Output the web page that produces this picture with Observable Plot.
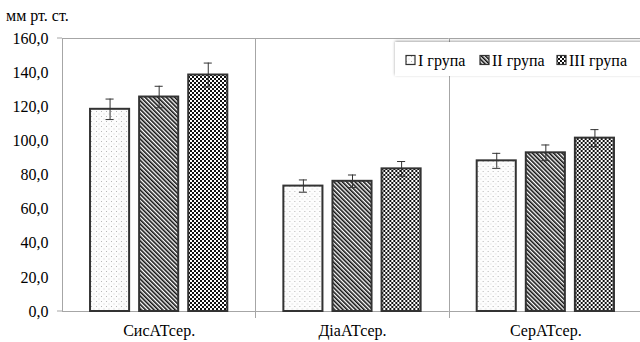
<!DOCTYPE html>
<html>
<head>
<meta charset="utf-8">
<script src="https://cdn.jsdelivr.net/npm/d3@7"></script>
<script src="https://cdn.jsdelivr.net/npm/@observablehq/plot@0.6"></script>
<style>
  html, body { margin: 0; padding: 0; background: #fff; }
  svg { display: block; }
</style>
</head>
<body>
<div id="chart"></div>
<script>
const categories = ["СисАТсер.", "ДіаАТсер.", "СерАТсер."];
const groups = ["I група", "II група", "III група"];
const group1 = [118.5, 73.5, 88.3];
const group2 = [125.7, 76.3, 93.0];
const group3 = [138.6, 83.6, 101.6];
const err1 = [6.0, 3.6, 4.4];
const err2 = [6.3, 3.7, 4.6];
const err3 = [7.0, 4.3, 5.0];
const yTicks = [0, 20, 40, 60, 80, 100, 120, 140, 160];
const unitLabel = "мм рт. ст.";
const patternIds = ["pat1", "pat2", "pat3"];

const series = [group1, group2, group3];
const errs = [err1, err2, err3];
const rows = [];
categories.forEach((c, ci) => {
  groups.forEach((g, gi) => {
    const v = series[gi][ci], e = errs[gi][ci];
    rows.push({cat: c, group: g, value: v, lo: v - e, hi: v + e});
  });
});

const font = "Liberation Serif";

const chart = Plot.plot({
  width: 640,
  height: 342,
  marginLeft: 62,
  marginRight: -2,
  marginTop: 38,
  marginBottom: 31,
  style: {fontFamily: font, fontSize: "16px", color: "#000", background: "#fff", overflow: "visible"},
  fx: {domain: categories, padding: 0, label: null, axis: "bottom", tickSize: 0, tickPadding: 13, round: false},
  x: {domain: groups, paddingInner: 0.204, paddingOuter: 0.571, axis: null, round: false},
  y: {domain: [0, 160], ticks: yTicks, tickFormat: d => d.toFixed(1).replace(".", ","), label: null, tickSize: 0, tickPadding: 14},
  color: {domain: groups, range: patternIds.map(id => `url(#${id})`)},
  marks: [
    Plot.ruleY([0, 160], {stroke: "#a6a6a6", strokeWidth: 1}),
    Plot.barY(rows, {fx: "cat", x: "group", y: "value", fill: "group", stroke: "#333", strokeWidth: 2}),
    Plot.ruleX(rows, {fx: "cat", x: "group", y1: "lo", y2: "hi", stroke: "#333", strokeWidth: 1}),
    Plot.tickY(rows, {fx: "cat", x: "group", y: "lo", stroke: "#333", strokeWidth: 1, insetLeft: 15.5, insetRight: 15.5}),
    Plot.tickY(rows, {fx: "cat", x: "group", y: "hi", stroke: "#333", strokeWidth: 1, insetLeft: 15.5, insetRight: 15.5})
  ]
});

const svg = d3.select(chart);
svg.attr("font-family", font);
const defs = svg.insert("defs", ":first-child");

// Pattern I: sparse gray dots on white
const p1 = defs.append("pattern").attr("id", "pat1").attr("patternUnits", "userSpaceOnUse").attr("width", 5).attr("height", 5);
p1.append("rect").attr("width", 5).attr("height", 5).attr("fill", "#fdfdfd");
p1.append("rect").attr("x", 1).attr("y", 1).attr("width", 1).attr("height", 1).attr("fill", "#b8b8b8");
p1.append("rect").attr("x", 3.5).attr("y", 3.5).attr("width", 1).attr("height", 1).attr("fill", "#d0d0d0");

// Pattern II: diagonal stripes "\"
const p2 = defs.append("pattern").attr("id", "pat2").attr("patternUnits", "userSpaceOnUse").attr("width", 3).attr("height", 3).attr("patternTransform", "rotate(-45)");
p2.append("rect").attr("width", 3).attr("height", 3).attr("fill", "#fff");
p2.append("rect").attr("width", 1.6).attr("height", 3).attr("fill", "#111");

// Pattern III: checkerboard
const p3 = defs.append("pattern").attr("id", "pat3").attr("patternUnits", "userSpaceOnUse").attr("width", 4).attr("height", 4);
p3.append("rect").attr("width", 4).attr("height", 4).attr("fill", "#fff");
p3.append("rect").attr("width", 2).attr("height", 2).attr("fill", "#111");
p3.append("rect").attr("x", 2).attr("y", 2).attr("width", 2).attr("height", 2).attr("fill", "#111");

// Category separators (and y axis line) from the fx scale
const fx = chart.scale("fx");
const y = chart.scale("y");
const yTop = y.apply(160), yBottom = y.apply(0);
const sep = svg.append("g").attr("stroke", "#a6a6a6").attr("stroke-width", 1);
categories.forEach((c, i) => {
  const x0 = Math.round(fx.apply(c)) + 0.5;
  sep.append("line").attr("x1", x0).attr("x2", x0).attr("y1", yTop).attr("y2", i === 0 ? yBottom : yBottom + 7);
});
[0, 160].forEach(v => {
  const yy = y.apply(v);
  sep.append("line").attr("x1", fx.apply(categories[0]) - 5).attr("x2", fx.apply(categories[0])).attr("y1", yy).attr("y2", yy);
});

// Unit label
svg.append("text").attr("x", 6).attr("y", 15).attr("dy", "0.35em").attr("text-anchor", "start")
  .attr("font-size", 16).attr("fill", "#000").text(unitLabel);

// Legend
const lg = svg.append("g").attr("font-size", 16).attr("text-anchor", "start");
const filt = defs.append("filter").attr("id", "shadow").attr("x", "-10%").attr("y", "-30%").attr("width", "130%").attr("height", "160%");
filt.append("feDropShadow").attr("dx", 0).attr("dy", -1).attr("stdDeviation", 1.5).attr("flood-color", "#000").attr("flood-opacity", 0.35);
lg.append("rect").attr("x", 395).attr("y", 42).attr("width", 250).attr("height", 34).attr("fill", "#fff").attr("filter", "url(#shadow)");
const legendX = [406, 480, 557];
groups.forEach((g, i) => {
  lg.append("rect").attr("x", legendX[i]).attr("y", 55.5).attr("width", 9).attr("height", 9)
    .attr("fill", `url(#${patternIds[i]})`).attr("stroke", "#333").attr("stroke-width", 1.2);
  lg.append("text").attr("x", legendX[i] + 12).attr("y", 60).attr("dy", "0.35em").attr("text-anchor", "start").attr("fill", "#000").text(g);
});

svg.selectAll("text").style("font-family", font);

document.getElementById("chart").appendChild(chart);
</script>
</body>
</html>
